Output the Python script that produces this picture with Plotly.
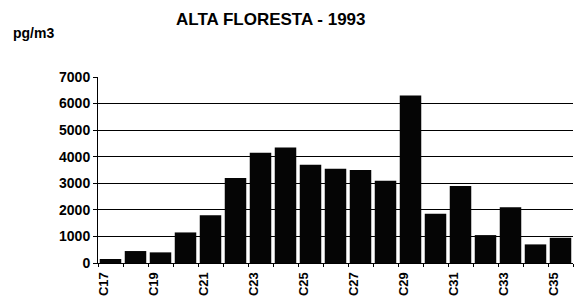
import plotly.graph_objects as go

categories = ["C%d" % n for n in range(17, 36)]
values = [150, 450, 400, 1150, 1800, 3200, 4150, 4350, 3700, 3550, 3500, 3100,
          6300, 1850, 2900, 1050, 2100, 700, 950]
tick_labels = ["C17", "C19", "C21", "C23", "C25", "C27", "C29", "C31", "C33", "C35"]
y_ticks = [0, 1000, 2000, 3000, 4000, 5000, 6000, 7000]

font_family = "Liberation Sans, Arial, sans-serif"

L, R, T, B = 98, 2, 77, 37
W, H = 575, 300
pw, ph = W - L - R, H - T - B
label_shift = 0.28  # front-plane offset of the pseudo-3D axis labels
n = len(categories)

fig = go.Figure()
fig.add_trace(go.Bar(x=list(range(n)), y=values, hovertext=categories,
                     marker=dict(color="#050505", line=dict(width=0))))

fig.update_layout(
    width=W, height=H,
    margin=dict(l=L, r=R, t=T, b=B),
    paper_bgcolor="white", plot_bgcolor="white",
    bargap=0.14,
    showlegend=False,
    font=dict(family=font_family, color="black", size=13, weight="bold"),
    annotations=[
        dict(text="ALTA FLORESTA - 1993", x=(271 - L) / pw, y=(H - B - 19) / ph,
             xref="paper", yref="paper", xanchor="center", yanchor="middle",
             showarrow=False, font=dict(size=17, weight="bold", family=font_family)),
        dict(text="pg/m3", x=(11 - L) / pw, y=(H - B - 33) / ph,
             xref="paper", yref="paper", xanchor="left", yanchor="middle",
             showarrow=False, font=dict(size=14, weight="bold", family=font_family)),
    ],
    xaxis=dict(
        range=[-0.5, n - 0.5],
        tickmode="array",
        tickvals=[categories.index(t) - label_shift for t in tick_labels],
        ticktext=tick_labels,
        tickangle=-90, ticks="",
        minor=dict(tickmode="array", tickvals=[i - 0.5 for i in range(n + 1)],
                   ticks="outside", ticklen=3, tickcolor="black", showgrid=False),
        showline=True, linecolor="black", linewidth=1, showgrid=False, zeroline=False,
        ticklabelstandoff=3,
        tickfont=dict(size=13, weight="bold", family=font_family),
    ),
    yaxis=dict(
        range=[0, 7000], tickmode="array", tickvals=y_ticks,
        ticks="outside", ticklen=4, tickcolor="black",
        showline=True, linecolor="black", linewidth=1,
        showgrid=True, gridcolor="black", gridwidth=1, zeroline=False,
        tickfont=dict(size=14, weight="bold", family=font_family),
    ),
)

fig.write_html("out.html", config={"displayModeBar": False},
               post_script="document.body.style.margin='0';")
